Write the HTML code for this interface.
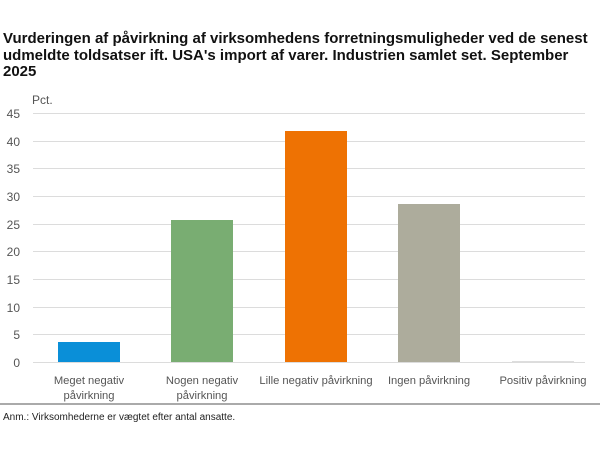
<!DOCTYPE html>
<html><head><meta charset="utf-8"><style>
body{margin:0;width:600px;height:450px;background:#fff;font-family:"Liberation Sans",Arial,sans-serif;overflow:hidden;position:relative}
.t{position:absolute;left:3px;top:31px;font-weight:bold;font-size:15px;line-height:16.5px;color:#111;width:592px}
</style></head><body>
<div class="t">Vurderingen af påvirkning af virksomhedens forretningsmuligheder ved de senest udmeldte toldsatser ift. USA's import af varer. Industrien samlet set. September 2025</div>
<svg width="600" height="450" style="position:absolute;left:0;top:0" font-family="Liberation Sans, Arial, sans-serif">
<g stroke="#dcdcdc" stroke-width="1">
<line x1="33" x2="585" y1="113.5" y2="113.5"/><line x1="33" x2="585" y1="141.5" y2="141.5"/><line x1="33" x2="585" y1="168.5" y2="168.5"/><line x1="33" x2="585" y1="196.5" y2="196.5"/><line x1="33" x2="585" y1="224.5" y2="224.5"/><line x1="33" x2="585" y1="251.5" y2="251.5"/><line x1="33" x2="585" y1="279.5" y2="279.5"/><line x1="33" x2="585" y1="307.5" y2="307.5"/><line x1="33" x2="585" y1="334.5" y2="334.5"/><line x1="33" x2="585" y1="362.5" y2="362.5"/>
</g>
<g font-size="12" fill="#555" text-anchor="end">
<text x="20" y="118">45</text><text x="20" y="146">40</text><text x="20" y="173">35</text><text x="20" y="201">30</text><text x="20" y="229">25</text><text x="20" y="256">20</text><text x="20" y="284">15</text><text x="20" y="312">10</text><text x="20" y="339">5</text><text x="20" y="367">0</text>
</g>
<text x="32" y="104" font-size="12" fill="#555">Pct.</text>
<rect x="58" y="342" width="62" height="20" fill="#0a8fd8"/>
<rect x="171" y="220" width="62" height="142" fill="#79ad72"/>
<rect x="285" y="131" width="62" height="231" fill="#ee7203"/>
<rect x="398" y="204" width="62" height="158" fill="#adac9c"/>
<rect x="512" y="361" width="62" height="1" fill="#ddd"/>
<g font-size="11.2" fill="#555" text-anchor="middle">
<text x="89" y="384">Meget negativ</text><text x="89" y="399">påvirkning</text>
<text x="202" y="384">Nogen negativ</text><text x="202" y="399">påvirkning</text>
<text x="316" y="384">Lille negativ påvirkning</text>
<text x="429" y="384">Ingen påvirkning</text>
<text x="543" y="384">Positiv påvirkning</text>
</g>
<line x1="0" x2="600" y1="404" y2="404" stroke="#aaa" stroke-width="2"/>
<text x="3" y="420" font-size="10" fill="#222">Anm.: Virksomhederne er vægtet efter antal ansatte.</text>
</svg>
</body></html>
